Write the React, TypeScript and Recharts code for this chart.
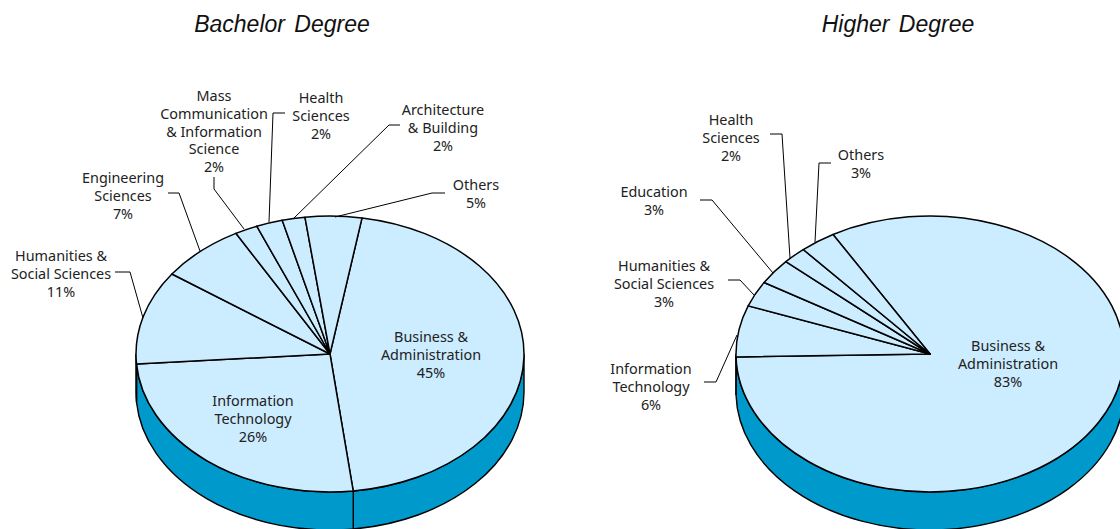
import React from 'react';
import { PieChart, Pie } from 'recharts';

const bachelorNames = [
  'Business &\nAdministration', 'Information\nTechnology', 'Humanities &\nSocial Sciences', 'Engineering\nSciences',
  'Mass\nCommunication\n& Information\nScience', 'Health\nSciences', 'Architecture\n& Building', 'Others',
];
// slice sizes, the labels show them rounded
const bachelorValues = [45.45, 25.75, 11, 7.1, 1.9, 2.2, 1.9, 4.7];

const higherNames = [
  'Business &\nAdministration', 'Information\nTechnology', 'Humanities &\nSocial Sciences', 'Education',
  'Health\nSciences', 'Others',
];
const higherValues = [83, 6, 3, 3, 2, 3];

// label centre x, first line y, then the leader line (if any)
const bachelorLabels = [
  { x: 431, y: 337 },
  { x: 253, y: 401 },
  { x: 61, y: 256, leader: '115,272 130,272 143,318' },
  { x: 123, y: 178, leader: '168,193 179,193 200,251' },
  { x: 214, y: 96, leader: '214,177 214,189 244,229' },
  { x: 321, y: 98, leader: '285,113 273,113 269,222' },
  { x: 443, y: 110, leader: '400,125 389,125 293,219' },
  { x: 476, y: 185, leader: '445,193 432,193 335,217' },
];
const higherLabels = [
  { x: 1008, y: 346 },
  { x: 651, y: 369, leader: '704,382 716,382 737,335' },
  { x: 664, y: 266, leader: '728,280 740,280 754,295' },
  { x: 654, y: 192, leader: '700,200 712,200 773,273' },
  { x: 731, y: 120, leader: '770,134 782,134 790,258' },
  { x: 861, y: 155, leader: '831,163 819,163 815,242' },
];

const RX = 194;
const RY = 138;
const DEPTH = 38;
const TOP_FILL = '#CCECFF';
const WALL_FILL = '#0099CC';
const FONT = '"Noto Sans", sans-serif';

const toRows = (names: string[], values: number[]) => names.map((name, i) => ({ name, value: values[i] }));

const pt = (cx: number, cy: number, deg: number) => {
  const a = (deg * Math.PI) / 180;
  return [cx + RX * Math.cos(a), cy - RY * Math.sin(a)];
};

// squashed sector plus the bit of side wall under it
const Slice3D = (props: any) => {
  const { cx, cy, startAngle, endAngle } = props;
  const hi = Math.max(startAngle, endAngle);
  const lo = Math.min(startAngle, endAngle);
  const [x0, y0] = pt(cx, cy, hi);
  const [x1, y1] = pt(cx, cy, lo);
  const large = hi - lo > 180 ? 1 : 0;
  const top = `M${cx},${cy} L${x0},${y0} A${RX},${RY} 0 ${large} 1 ${x1},${y1} Z`;

  const wHi = Math.min(hi, 0);
  const wLo = Math.max(lo, -180);
  let wall = null;
  if (wHi > wLo) {
    const [a0, b0] = pt(cx, cy, wHi);
    const [a1, b1] = pt(cx, cy, wLo);
    wall = `M${a0},${b0} A${RX},${RY} 0 0 1 ${a1},${b1} L${a1},${b1 + DEPTH} A${RX},${RY} 0 0 0 ${a0},${b0 + DEPTH} Z`;
  }
  return (
    <g>
      {wall && <path d={wall} fill={WALL_FILL} stroke="#000" strokeWidth={1.4} />}
      <path d={top} fill={TOP_FILL} stroke="#000" strokeWidth={1.5} strokeLinejoin="round" />
    </g>
  );
};

const makeLabel = (layout: any[]) => (props: any) => {
  const { index, name, value } = props;
  const spot = layout[index];
  const lines = [...String(name).split('\n'), `${Math.round(value)}%`];
  return (
    <g>
      {spot.leader && <polyline points={spot.leader} fill="none" stroke="#000" strokeWidth={1} />}
      {lines.map((line, i) => (
        <text
          key={i}
          x={spot.x}
          y={spot.y + i * 17.8 + 5}
          textAnchor="middle"
          fontFamily={FONT}
          fontSize={14.4}
          fill="#222"
        >
          {line}
        </text>
      ))}
    </g>
  );
};

export default function App() {
  return (
    <div style={{ position: 'absolute', left: 0, top: 0, width: 1120, height: 529, overflow: 'hidden', background: '#fff' }}>
      <PieChart width={1120} height={529} margin={{ top: 0, right: 0, bottom: 0, left: 0 }}>
        <text x={282} y={32} textAnchor="middle" fontFamily="Liberation Sans" fontStyle="italic" fontSize={23} wordSpacing={3} fill="#111">
          Bachelor Degree
        </text>
        <text x={898} y={32} textAnchor="middle" fontFamily="Liberation Sans" fontStyle="italic" fontSize={23} wordSpacing={3} fill="#111">
          Higher Degree
        </text>
        <Pie
          data={toRows(bachelorNames, bachelorValues)}
          dataKey="value"
          nameKey="name"
          cx={330}
          cy={354}
          outerRadius={RX}
          startAngle={80.5}
          endAngle={-279.5}
          shape={Slice3D}
          label={makeLabel(bachelorLabels)}
          labelLine={false}
          isAnimationActive={false}
        />
        <Pie
          data={toRows(higherNames, higherValues)}
          dataKey="value"
          nameKey="name"
          cx={930}
          cy={354}
          outerRadius={RX}
          startAngle={120}
          endAngle={-240}
          shape={Slice3D}
          label={makeLabel(higherLabels)}
          labelLine={false}
          isAnimationActive={false}
        />
      </PieChart>
    </div>
  );
}
